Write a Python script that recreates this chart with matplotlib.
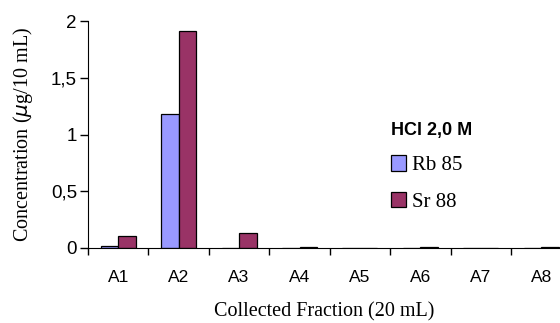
import matplotlib.pyplot as plt
import numpy as np

fractions = ['A1', 'A2', 'A3', 'A4', 'A5', 'A6', 'A7', 'A8']
rb85 = [0.02, 1.18, 0.0, 0.0, 0.0, 0.0, 0.0, 0.0]
sr88 = [0.11, 1.91, 0.13, 0.01, 0.0, 0.01, 0.0, 0.01]
yticks = [0, 0.5, 1, 1.5, 2]
ytick_labels = ['0', '0,5', '1', '1,5', '2']

fig = plt.figure(figsize=(5.6, 3.23), dpi=100)
ax = fig.add_axes([88 / 560, 75 / 323, 472 / 560, 227 / 323])

x = np.arange(len(fractions))
w = 0.29
ax.bar(x - w / 2, rb85, w, color='#9999FF', edgecolor='black', linewidth=0.9, label='Rb 85')
ax.bar(x + w / 2, sr88, w, color='#993366', edgecolor='black', linewidth=0.9, label='Sr 88')

ax.set_xlim(-0.5, 7.31)
ax.set_ylim(0, 2)
ax.set_yticks(yticks)
ax.set_yticklabels(ytick_labels, fontsize=13.5, family='Liberation Sans')

# category ticks sit between groups, labels in the middle
ax.set_xticks(np.arange(-0.5, 7.5, 1))
ax.set_xticklabels([])
ax.set_xticks(x, minor=True)
ax.set_xticklabels(fractions, minor=True, fontsize=12.5, family='Liberation Sans')
ax.tick_params(axis='x', which='major', length=5, direction='out', width=1)
ax.tick_params(axis='x', which='minor', length=0, pad=16)
ax.tick_params(axis='y', length=6, pad=2, width=1)

ax.spines['top'].set_visible(False)
ax.spines['right'].set_visible(False)

ax.set_ylabel('Concentration ($\\mu$g/10 mL)', family='Liberation Serif', fontsize=14.5, labelpad=11)
ax.set_xlabel('Collected Fraction (20 mL)', family='Liberation Serif', fontsize=14.5, labelpad=12)

leg = ax.legend(title='HCl 2,0 M', frameon=False, loc='upper left',
                bbox_to_anchor=(376 / 560, 1 - 107 / 323), bbox_transform=fig.transFigure,
                handlelength=0.75, handleheight=0.75, handletextpad=0.3, labelspacing=0.8,
                borderpad=0.2, prop={'family': 'Liberation Serif', 'size': 15})
leg.get_title().set_fontweight('bold')
leg.get_title().set_family('Liberation Sans')
leg.get_title().set_fontsize(13)
leg._legend_box.align = 'left'

fig.savefig('out.png', dpi=100)
